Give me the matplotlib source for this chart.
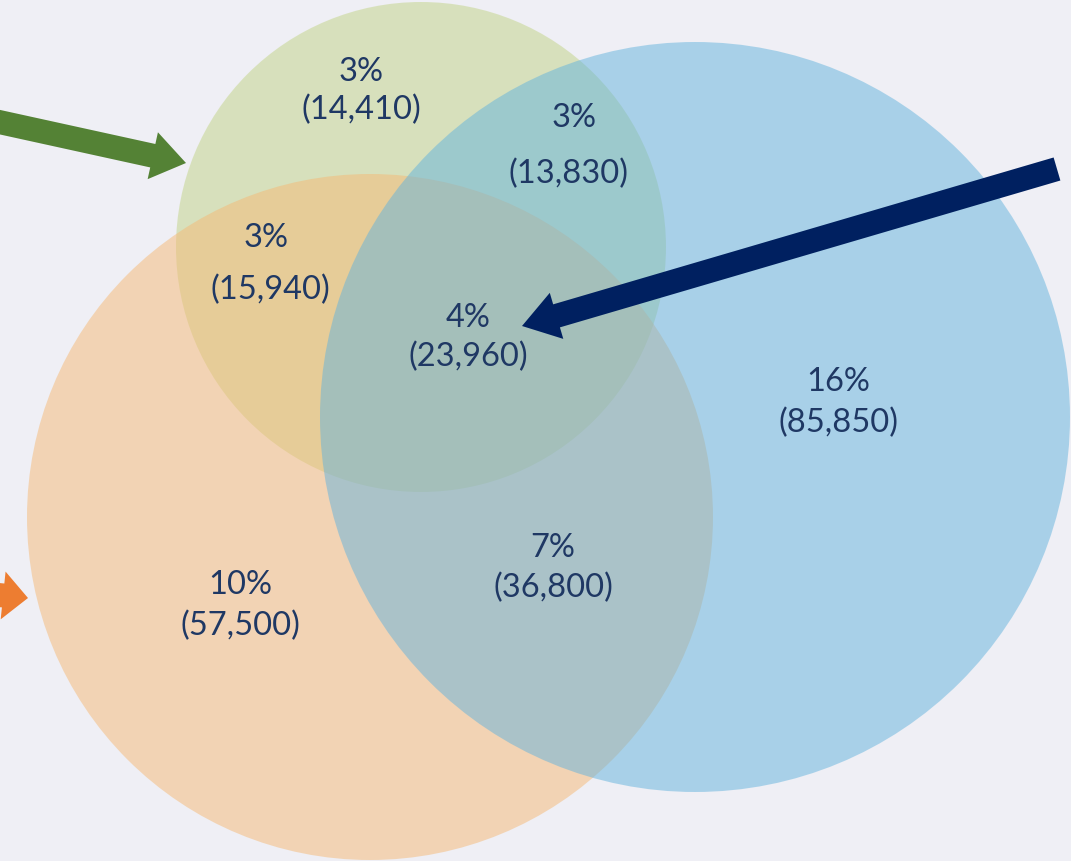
import matplotlib.pyplot as plt
from matplotlib.patches import Circle

# circles in pixel space (x, y, radius)
circle_names = ["green", "orange", "blue"]
circle_x = [421, 370, 695]
circle_y = [247, 517, 417]
circle_r = [245, 343, 375]
circle_colors = ["#c1d385", "#f5b975", "#63b3dd"]

# region labels
pcts = ["3%", "3%", "3%", "4%", "16%", "7%", "10%"]
counts = ["(14,410)", "(13,830)", "(15,940)", "(23,960)", "(85,850)", "(36,800)", "(57,500)"]
pct_pos = [(361, 72), (574, 118), (266, 238), (468, 318), (838, 382), (553, 548), (240, 585)]
count_pos = [(361, 110), (569, 174), (270, 290), (468, 357), (838, 423), (553, 588), (240, 626)]

# arrows: start, end, colour, head length
arrows = [((-10, 120), (186, 163), "#548235", 34),
          ((1057, 169), (522, 326), "#002060", 36),
          ((-60, 589), (28, 598), "#ed7d31", 25)]

bg = "#efeff5"
fig = plt.figure(figsize=(10.71, 8.61), dpi=100, facecolor=bg)
ax = fig.add_axes([0, 0, 1, 1])
ax.set_facecolor(bg)
ax.set_xlim(0, 1071)
ax.set_ylim(861, 0)
ax.set_aspect("equal")
ax.axis("off")

for x, y, r, c in zip(circle_x, circle_y, circle_r, circle_colors):
    ax.add_patch(Circle((x, y), r, color=c, alpha=0.5, lw=0))

for (x0, y0), (x1, y1), c, hl in arrows:
    ax.arrow(x0, y0, x1 - x0, y1 - y0, width=24, head_width=48, head_length=hl,
             length_includes_head=True, color=c, lw=0)

for t, (x, y) in zip(pcts, pct_pos):
    ax.text(x, y, t, ha="center", va="center", fontsize=23.5, color="#1f3864", family="Lato")
for t, (x, y) in zip(counts, count_pos):
    ax.text(x, y, t, ha="center", va="center", fontsize=23.5, color="#1f3864", family="Lato")

fig.savefig("out.png", dpi=100, facecolor=bg)
